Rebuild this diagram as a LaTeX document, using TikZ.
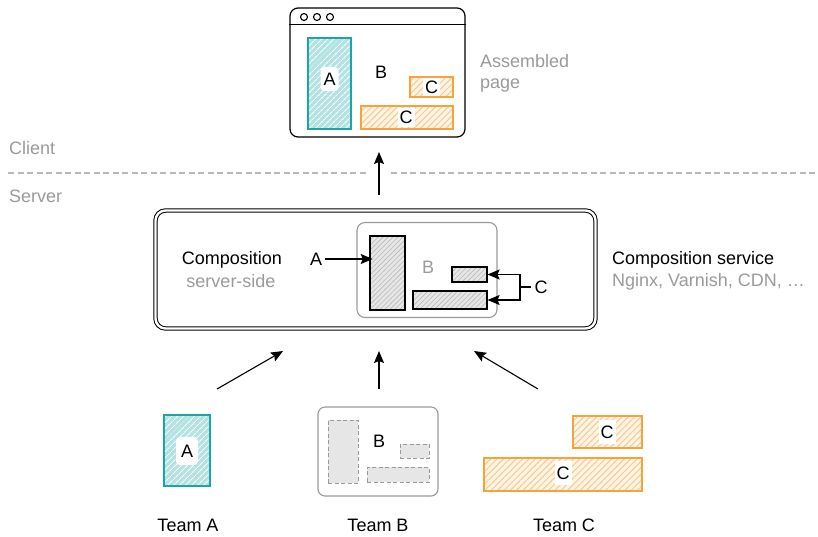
\documentclass[tikz,border=0pt]{standalone}
\usepackage{fontspec}
\setmainfont{Liberation Sans}
\usetikzlibrary{patterns.meta,arrows.meta}
\definecolor{tealc}{HTML}{1BA5A5}
\definecolor{teallight}{HTML}{B2E2E2}
\definecolor{orangec}{HTML}{F5A33A}
\definecolor{orangelight}{HTML}{FEF4E6}
\definecolor{orangeline}{HTML}{F7CB8F}
\definecolor{graytxt}{HTML}{9A9A9A}
\definecolor{grayline}{HTML}{B8B8B8}
\definecolor{grayfill}{HTML}{E6E6E6}
\begin{document}
\begin{tikzpicture}[x=1pt,y=-1pt,
  every node/.style={font=\fontsize{18}{21}\selectfont, inner sep=0pt},
  hteal/.style={draw=tealc, line width=1.1pt, preaction={fill=teallight},
    pattern={Lines[angle=45,distance=4pt,line width=1.1pt]}, pattern color=white},
  horange/.style={draw=orangec, line width=1.1pt, preaction={fill=orangelight},
    pattern={Lines[angle=45,distance=4.5pt,line width=1pt]}, pattern color=orangeline},
  hgray/.style={draw=black, line width=1.1pt, preaction={fill=grayfill},
    pattern={Lines[angle=45,distance=3.5pt,line width=0.6pt]}, pattern color=grayline},
  dgray/.style={draw=graytxt, dashed, dash pattern=on 4pt off 2.5pt, line width=1pt, fill=grayfill},
  wlab/.style={fill=white, rounded corners=4pt, inner xsep=3pt, inner ysep=6pt},
  clab/.style={fill=white, inner xsep=2pt, inner ysep=4pt},
  gtxt/.style={text=graytxt},
  arr/.style={-{Stealth[length=12pt,width=10pt,inset=2pt]}, line width=1.1pt},
]
\useasboundingbox (0,0) rectangle (818,536);

% ---------- browser window ----------
\node[draw, line width=1.2pt, rounded corners=8pt, minimum width=175pt, minimum height=129pt] (win) at (377.5,72.5) {};
\draw[line width=1.2pt] ([yshift=-17pt]win.north west) -- ([yshift=-17pt]win.north east);
\foreach \i/\x in {1/304,2/317,3/330}
  \node[draw, circle, line width=1.1pt, minimum size=7pt] (dot\i) at (\x,17) {};
\node[hteal, minimum width=43pt, minimum height=91pt] (wa) at (329.5,83.5) {};
\node[wlab] (wal) at (329.5,79) {A};
\node (wb) at (381,72) {B};
\node[horange, minimum width=43pt, minimum height=20pt] (wc1) at (431.5,87) {};
\node[clab, inner ysep=3pt] (wc1l) at (431.5,87) {C};
\node[horange, minimum width=92pt, minimum height=23pt] (wc2) at (407,117.5) {};
\node[clab, inner ysep=3pt] (wc2l) at (406,117.5) {C};
\node[gtxt, anchor=base west] (asm1) at (480,67.5) {Assembled};
\node[gtxt, anchor=base west] (asm2) at (480,88.5) {page};

% ---------- client / server ----------
\node[gtxt, anchor=west] (client) at (9,148) {Client};
\node[gtxt, anchor=west] (server) at (9,196) {Server};
\coordinate (dl1) at (8,173);
\coordinate (dl2) at (367,173);
\coordinate (dl3) at (391,173);
\coordinate (dl4) at (818,173);
\draw[grayline, line width=1.2pt, dash pattern=on 6pt off 3.5pt] (dl1) -- (dl2);
\draw[grayline, line width=1.2pt, dash pattern=on 6pt off 3.5pt] (dl3) -- (dl4);

% ---------- composition service ----------
\node[draw, double, double distance=2.4pt, line width=1pt, rounded corners=10pt,
      minimum width=440pt, minimum height=118pt] (comp) at (375.5,269.5) {};
\coordinate (upbot) at (379,195);
\coordinate (uptop) at (379,152);
\draw[arr] (upbot) -- (uptop);

\node (ctitle) at (232,260) {Composition};
\node[gtxt] (csub) at (231,281) {server-side};

\node[draw=graytxt, line width=1.1pt, rounded corners=8pt, minimum width=140pt, minimum height=95pt] (inner) at (427,270) {};
\node[hgray, minimum width=35pt, minimum height=74pt] (ta) at (387.5,273) {};
\node[gtxt] (ib) at (428,267) {B};
\node[hgray, minimum width=35pt, minimum height=15pt] (tc1) at (469.5,274.5) {};
\node[hgray, minimum width=74pt, minimum height=18pt] (tc2) at (450,300) {};

\node (alab) at (316,259) {A};
\draw[arr] ([xshift=3pt]alab.east) -- ([xshift=3pt]alab.east -| ta.west);
\node (clab) at (541,287) {C};
\coordinate (cbr) at (520,287);
\draw[line width=1.1pt] ([xshift=-3pt]clab.west) -- (cbr);
\draw[arr] (cbr) |- (tc1.east);
\draw[arr] (cbr) |- (tc2.east);

\node[anchor=west] (cs1) at (612,260) {Composition service};
\node[gtxt, anchor=west] (cs2) at (612,282) {Nginx, Varnish, CDN, …};

% ---------- arrows from teams ----------
\coordinate (la1) at (217,389);
\coordinate (la2) at (283,351);
\coordinate (ma1) at (379,389);
\coordinate (ma2) at (379,351);
\coordinate (ra1) at (538,389);
\coordinate (ra2) at (474,351);
\draw[arr] (la1) -- (la2);
\draw[arr] (ma1) -- (ma2);
\draw[arr] (ra1) -- (ra2);

% ---------- team A ----------
\node[hteal, minimum width=46pt, minimum height=71pt] (teama) at (187,450.5) {};
\node[wlab, inner xsep=5pt, inner ysep=8pt] (teamal) at (187,451) {A};
\node (tA) at (188,525) {Team A};

% ---------- team B ----------
\node[draw=graytxt, line width=1.1pt, rounded corners=7pt, minimum width=120pt, minimum height=89pt] (teamb) at (378,451.5) {};
\node[dgray, minimum width=30pt, minimum height=63pt] (tb1) at (343,451.5) {};
\node[dgray, minimum width=29pt, minimum height=14pt] (tb2) at (414.5,451) {};
\node[dgray, minimum width=62pt, minimum height=15pt] (tb3) at (398,474.5) {};
\node (tbl) at (379,441) {B};
\node (tB) at (378,525) {Team B};

% ---------- team C ----------
\node[horange, minimum width=69pt, minimum height=32pt] (tcs) at (607.5,432) {};
\node[clab, inner ysep=6pt] (tcsl) at (607,432) {C};
\node[horange, minimum width=158pt, minimum height=33pt] (tcl) at (563,474.5) {};
\node[clab, inner ysep=6pt] (tcll) at (563,473) {C};
\node (tC) at (564,525) {Team C};
\end{tikzpicture}
\end{document}
